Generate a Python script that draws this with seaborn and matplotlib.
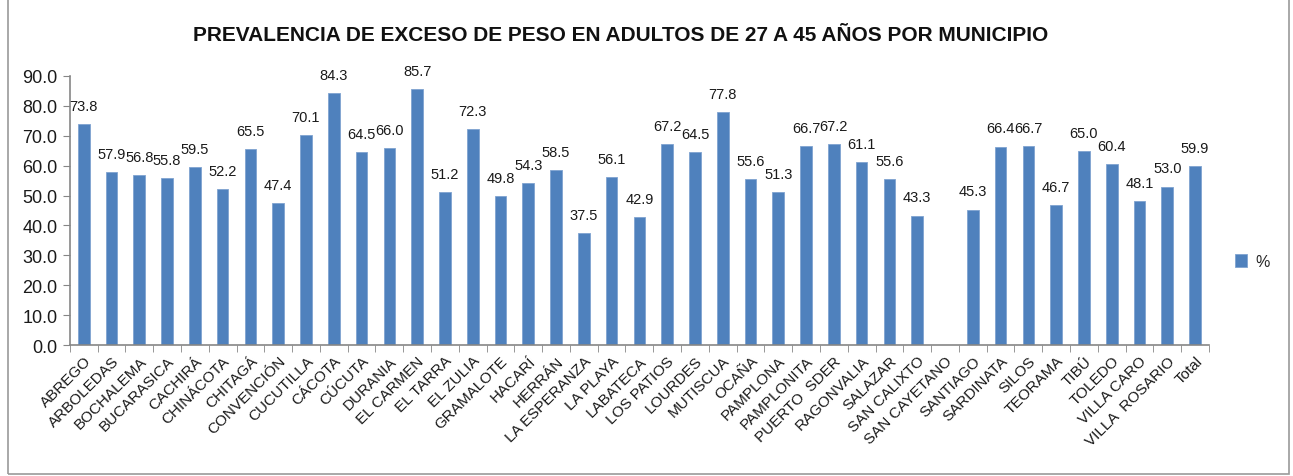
import numpy as np
import pandas as pd
import seaborn as sns
import matplotlib.pyplot as plt
from matplotlib.patches import Rectangle
from matplotlib.ticker import FixedLocator, FormatStrFormatter

municipios = ["ABREGO", "ARBOLEDAS", "BOCHALEMA", "BUCARASICA", "CACHIRÁ", "CHINÁCOTA",
              "CHITAGÁ", "CONVENCIÓN", "CUCUTILLA", "CÁCOTA", "CÚCUTA", "DURANIA",
              "EL CARMEN", "EL TARRA", "EL ZULIA", "GRAMALOTE", "HACARÍ", "HERRÁN",
              "LA ESPERANZA", "LA PLAYA", "LABATECA", "LOS PATIOS", "LOURDES", "MUTISCUA",
              "OCAÑA", "PAMPLONA", "PAMPLONITA", "PUERTO  SDER", "RAGONVALIA", "SALAZAR",
              "SAN CALIXTO", "SAN CAYETANO", "SANTIAGO", "SARDINATA", "SILOS", "TEORAMA",
              "TIBÚ", "TOLEDO", "VILLA CARO", "VILLA  ROSARIO", "Total"]
porcentaje = [73.8, 57.9, 56.8, 55.8, 59.5, 52.2,
              65.5, 47.4, 70.1, 84.3, 64.5, 66.0,
              85.7, 51.2, 72.3, 49.8, 54.3, 58.5,
              37.5, 56.1, 42.9, 67.2, 64.5, 77.8,
              55.6, 51.3, 66.7, 67.2, 61.1, 55.6,
              43.3, np.nan, 45.3, 66.4, 66.7, 46.7,
              65.0, 60.4, 48.1, 53.0, 59.9]

df = pd.DataFrame({"municipio": municipios, "%": porcentaje})

sns.set_style("white")
plt.rcParams['font.family'] = ['Liberation Sans', 'DejaVu Sans']

fig = plt.figure(figsize=(12.93, 4.77), dpi=100)
ax = fig.add_axes([0.054, 0.2746, 0.881, 0.564])

sns.barplot(data=df, x="municipio", y="%", order=municipios, color="#4F81BD",
            saturation=1, width=0.42, errorbar=None, edgecolor="#7FA3D0",
            linewidth=0.6, ax=ax, label="%")

labels = ["" if np.isnan(v) else f"{v:.1f}" for v in porcentaje]
kept = [lab for lab in labels if lab != ""]
cont = ax.containers[0]
if len(cont) == len(labels):
    ax.bar_label(cont, labels=labels, padding=8, fontsize=10.5, color="#1a1a1a")
else:
    ax.bar_label(cont, labels=kept, padding=8, fontsize=10.5, color="#1a1a1a")

ax.set_xlim(-0.5, len(municipios) - 0.5)
ax.set_ylim(0, 90)
ax.set_yticks(np.arange(0, 91, 10))
ax.yaxis.set_major_formatter(FormatStrFormatter("%.1f"))
ax.tick_params(axis="y", labelsize=13, length=5, direction="out", color="#868686",
               labelcolor="#1a1a1a", left=True, pad=4)
ax.set_xticks(range(len(municipios)))
ax.set_xticklabels(municipios, rotation=45, ha="right", rotation_mode="anchor",
                   fontsize=11, color="#1a1a1a")
ax.tick_params(axis="x", which="major", length=0, pad=6)
ax.xaxis.set_minor_locator(FixedLocator(np.arange(-0.5, len(municipios), 1.0)))
ax.tick_params(axis="x", which="minor", length=5, direction="out", color="#868686",
               bottom=True)
ax.set_xlabel("")
ax.set_ylabel("")

for side in ["top", "right"]:
    ax.spines[side].set_visible(False)
for side in ["left", "bottom"]:
    ax.spines[side].set_color("#868686")
    ax.spines[side].set_linewidth(1.2)

ax.legend(loc="center left", bbox_to_anchor=(1.01, 0.31), frameon=False,
          fontsize=11.5, handlelength=0.8, handleheight=0.8, handletextpad=0.5)

fig.suptitle("PREVALENCIA DE EXCESO DE PESO EN ADULTOS DE 27 A 45 AÑOS POR MUNICIPIO",
             x=0.48, y=0.945, fontsize=15, fontweight="bold", color="#111111")

fig.patches.append(Rectangle((0.006, 0.004), 0.991, 1.2, transform=fig.transFigure,
                             fill=False, edgecolor="#9a9a9a", linewidth=1.2))

fig.savefig("out.png", dpi=100)
